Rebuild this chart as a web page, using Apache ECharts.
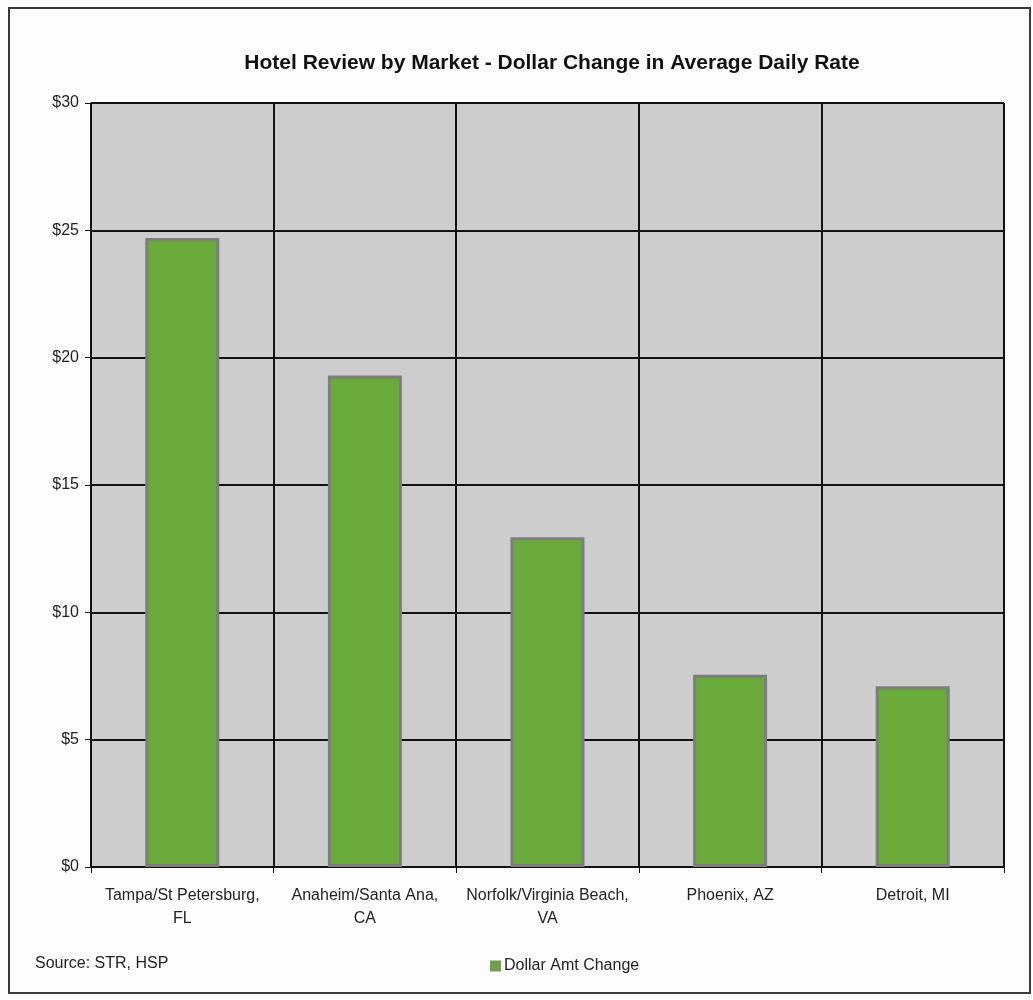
<!DOCTYPE html>
<html><head><meta charset="utf-8">
<script src="https://cdn.jsdelivr.net/npm/echarts@6/dist/echarts.min.js"></script>
<style>html,body{margin:0;padding:0;background:#fff}#c{width:1033px;height:1000px}</style>
</head><body><div id="c"></div>
<script>
const categories = ['Tampa/St Petersburg,\nFL', 'Anaheim/Santa Ana,\nCA', 'Norfolk/Virginia Beach,\nVA', 'Phoenix, AZ', 'Detroit, MI'];
const dollarAmtChange = [24.7, 19.3, 12.95, 7.55, 7.1];
const yTicks = [0, 5, 10, 15, 20, 25, 30];

const FONT = '"Liberation Sans", Arial, sans-serif';
const chart = echarts.init(document.getElementById('c'));
chart.setOption({
  backgroundColor: '#fdfdfd',
  animation: false,
  title: {
    text: 'Hotel Review by Market - Dollar Change in Average Daily Rate',
    left: 547, top: 48, textAlign: 'center',
    textStyle: { fontFamily: FONT, fontSize: 21, fontWeight: 'bold', color: '#111' }
  },
  legend: {
    data: ['Dollar Amt Change'],
    left: 485, top: 953,
    itemWidth: 11, itemHeight: 11, itemGap: 4,
    icon: 'rect',
    itemStyle: { borderWidth: 0, color: '#6e9e4e' },
    textStyle: { fontFamily: FONT, fontSize: 16, color: '#222', padding: [0,0,0,-2] }
  },
  graphic: [
    { type: 'rect', shape: { x: 9, y: 8, width: 1021, height: 985 }, style: { fill: null, stroke: '#3a3a3a', lineWidth: 2 } },
    { type: 'text', left: 35, top: 956, style: { text: 'Source: STR, HSP', font: '16px ' + FONT, fill: '#222' } }
  ],
  grid: { left: 91, right: 29, top: 103, bottom: 133, show: true, backgroundColor: '#cdcdcd', borderWidth: 0 },
  xAxis: {
    type: 'category', data: categories,
    axisLine: { lineStyle: { color: '#111', width: 1.5 } },
    axisTick: { show: true, length: 6, lineStyle: { color: '#111' } },
    axisLabel: { fontFamily: FONT, fontSize: 16, color: '#222', margin: 17, lineHeight: 23, interval: 0 },
    splitLine: { show: true, lineStyle: { color: '#111', width: 2 } }
  },
  yAxis: {
    type: 'value', min: 0, max: 30, interval: 5,
    axisLine: { show: true, lineStyle: { color: '#111', width: 1.5 } },
    axisTick: { show: true, length: 6, lineStyle: { color: '#111' } },
    axisLabel: { fontFamily: FONT, fontSize: 16, color: '#222', margin: 12,
      formatter: v => yTicks.includes(v) ? '$' + v : '' },
    splitLine: { show: true, lineStyle: { color: '#111', width: 2 } }
  },
  series: [{
    name: 'Dollar Amt Change', type: 'bar', data: dollarAmtChange,
    barWidth: 74,
    itemStyle: { color: '#6aaa3a', borderColor: '#7d7d7d', borderWidth: 3 }
  }]
});
</script></body></html>
